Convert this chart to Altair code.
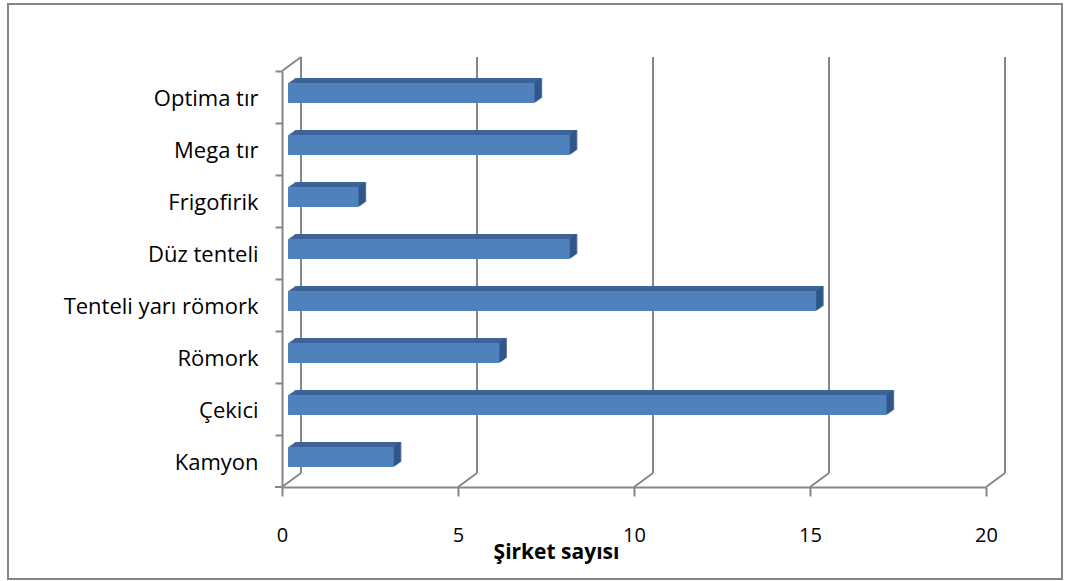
import altair as alt
import pandas as pd

# Vehicle types and how many companies operate each
categories = ["Optima tır", "Mega tır", "Frigofirik", "Düz tenteli",
              "Tenteli yarı römork", "Römork", "Çekici", "Kamyon"]
counts = [7, 8, 2, 8, 15, 6, 17, 3]
x_ticks = [0, 5, 10, 15, 20]

W, H = 704, 416          # front plane of the plot
DX, DY = 19, -14         # depth of the back wall
BX, BY = 6, -4           # bars stand slightly behind the front plane
BAR = 20                 # bar thickness
GRID = "#868686"
FRONT, TOP, SIDE = "#4F81BD", "#3D6498", "#2E5486"
FONT = "Open Sans"

bars = pd.DataFrame({"kategori": categories, "sirket": counts})
ticks = pd.DataFrame({"t": x_ticks})

xs = alt.Scale(domain=[0, 20], nice=False)
ys = alt.Scale(domain=categories, paddingInner=0, paddingOuter=0)

x_axis = alt.Axis(values=x_ticks, grid=False, domainColor=GRID, domainWidth=2,
                  tickColor=GRID, tickWidth=2, tickSize=9,
                  labelPadding=39, labelBaseline="middle", labelFontSize=20,
                  labelFont=FONT, labelColor="#000000", labelFlush=False,
                  titleFont=FONT, titleFontSize=21, titleFontWeight="bold",
                  titleColor="#000000", titleX=274, titleY=65,
                  titleAlign="center", titleBaseline="middle")
y_axis = alt.Axis(grid=False, domainColor=GRID, domainWidth=2, tickColor=GRID,
                  tickWidth=2, tickSize=7, bandPosition=0, labelPadding=17,
                  labelOffset=2, labelFontSize=22, labelFont=FONT,
                  labelColor="#000000", labelLimit=400)


def xq(field):
    return alt.X(field, scale=xs, axis=x_axis, title="Şirket sayısı")


def yn():
    return alt.Y("kategori:N", scale=ys, sort=categories, axis=y_axis, title=None)


# outer frame around the whole chart
frame = alt.Chart(bars).mark_rect(fill=None, stroke=GRID, strokeWidth=2).encode(
    x=alt.value(-274), x2=alt.value(780), y=alt.value(-67), y2=alt.value(508)
).transform_filter(alt.datum.kategori == categories[0])

# back-wall gridlines
back = alt.Chart(ticks).mark_rule(color=GRID, strokeWidth=2, xOffset=DX, yOffset=DY,
                                  y2Offset=DY).encode(
    x=xq("t:Q"), y=alt.value(0), y2=alt.value(H))

# floor connectors from the front axis to the back wall
floor = alt.Chart(ticks).mark_rule(color=GRID, strokeWidth=2, x2Offset=DX).encode(
    x=xq("t:Q"), x2="t:Q", y=alt.value(H), y2=alt.value(H + DY))

# side wall top edge and the closing tick of the category axis
corner = alt.Chart(ticks).mark_rule(color=GRID, strokeWidth=2).encode(
    x=alt.value(0), x2=alt.value(DX), y=alt.value(0), y2=alt.value(DY)
).transform_filter(alt.datum.t == 0)
end_tick = alt.Chart(ticks).mark_rule(color=GRID, strokeWidth=2).encode(
    x=alt.value(-7), x2=alt.value(0), y=alt.value(H), y2=alt.value(H)
).transform_filter(alt.datum.t == 0)

layers = [frame, back, floor, corner, end_tick]

# extruded depth of each bar: top face, then right side
steps = 6
for k in range(1, steps + 1):
    dx, dy = k * 7 / steps, -k * 5 / steps
    layers.append(alt.Chart(bars).mark_bar(size=BAR, color=TOP, xOffset=BX + dx,
                                           yOffset=BY + dy).encode(
        x=xq("sirket:Q"), y=yn()))
for k in range(1, steps + 1):
    dx, dy = k * 7 / steps, -k * 5 / steps
    layers.append(alt.Chart(bars).mark_tick(size=BAR, thickness=1.6, color=SIDE,
                                            xOffset=BX + dx, yOffset=BY + dy).encode(
        x=xq("sirket:Q"), y=yn()))

# front faces
front = alt.Chart(bars).mark_bar(size=BAR, color=FRONT, xOffset=BX, yOffset=BY).encode(
    x=xq("sirket:Q"), y=yn())
layers.append(front)

chart = alt.layer(*layers).properties(
    width=W, height=H,
    padding={"left": 282, "top": 71, "right": 81, "bottom": 94},
    autosize=alt.AutoSizeParams(type="none"),
    background="white",
).configure_view(stroke=None)

chart.save("out.html", embed_options={"renderer": "svg", "actions": False})
